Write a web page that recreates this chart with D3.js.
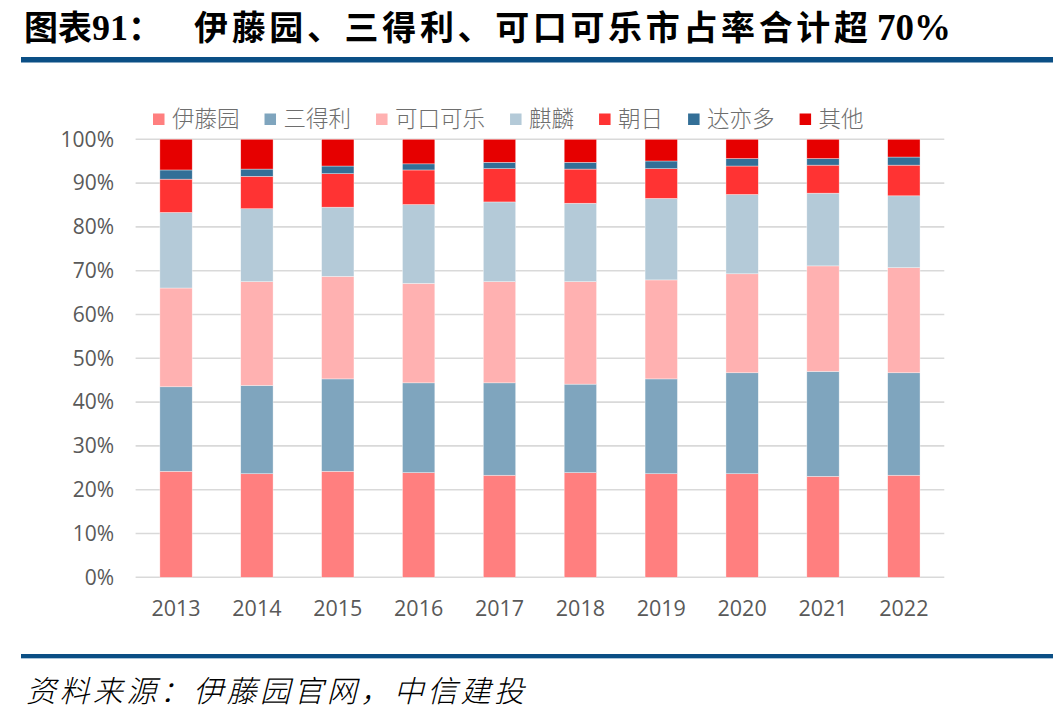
<!DOCTYPE html>
<html><head><meta charset="utf-8">
<script src="https://cdn.jsdelivr.net/npm/d3@7/dist/d3.min.js"></script>
<style>
html,body{margin:0;padding:0;background:#fff;}
svg{display:block;}
</style></head>
<body>
<svg id="chart" width="1053" height="723"></svg>
<script>
// ---- data ----
const years = ["2013","2014","2015","2016","2017","2018","2019","2020","2021","2022"];
const seriesNames = ["伊藤园","三得利","可口可乐","麒麟","朝日","达亦多","其他"];
const itoen   = [24.2, 23.65, 24.2, 23.9, 23.3, 23.9, 23.65, 23.65, 23.05, 23.3];
const suntory = [19.3, 20.15, 21.1, 20.5, 21.1, 20.2, 21.65, 23.05, 23.95, 23.4];
const coke    = [22.55, 23.7, 23.4, 22.7, 23.1, 23.4, 22.6, 22.6, 24.1, 24.0];
const kirin   = [17.25, 16.65, 15.8, 18.0, 18.2, 17.9, 18.6, 18.1, 16.6, 16.4];
const asahi   = [7.6, 7.4, 7.65, 7.9, 7.6, 7.8, 6.8, 6.5, 6.4, 7.0];
const dydo    = [2.1, 1.65, 1.75, 1.4, 1.45, 1.55, 1.75, 1.7, 1.5, 1.85];
const other   = [7.0, 6.8, 6.1, 5.6, 5.25, 5.25, 4.95, 4.4, 4.4, 4.05];
const yTicks  = [0,10,20,30,40,50,60,70,80,90,100];
const colors  = ["#FF7F7F","#7FA5BE","#FFB1B1","#B4CAD8","#FF3333","#336F97","#E60000"];
const titleBody = "伊藤园、三得利、可口可乐市占率合计超";
const titleTail = "70%";
const sourceText = "资料来源：伊藤园官网，中信建投";

const seriesValues = [itoen, suntory, coke, kirin, asahi, dydo, other];
const table = years.map((y, i) => {
  const row = {year: y};
  seriesNames.forEach((s, k) => row[s] = seriesValues[k][i]);
  return row;
});

const svg = d3.select("#chart");

// ---- title ----
const title = svg.append("text").attr("y", 40)
  .attr("font-family", "'Noto Sans CJK SC', sans-serif")
  .attr("font-weight", 700).attr("font-size", 34).attr("fill", "#000");
title.append("tspan").attr("x", 24).text("图表");
title.append("tspan").attr("font-family", "'Liberation Serif', serif").attr("font-size", 36).text("91");
title.append("tspan").text("：");
title.append("tspan").attr("x", 194).attr("textLength", 674).attr("lengthAdjust", "spacing").text(titleBody);
title.append("tspan").attr("x", 877).attr("font-family", "'Liberation Serif', serif").attr("font-size", 37).text(titleTail);

svg.append("rect").attr("x", 21).attr("y", 57).attr("width", 1032).attr("height", 5.5).attr("fill", "#0B4F85");

// ---- scales ----
const x = d3.scaleBand().domain(years).range([135.6, 944.3]).paddingInner(0.6).paddingOuter(0.3);
const y = d3.scaleLinear().domain([0, 100]).range([577.3, 139.3]);

// gridlines
svg.append("g").selectAll("line").data(yTicks).join("line")
  .attr("x1", 135.6).attr("x2", 944.3)
  .attr("y1", d => y(d)).attr("y2", d => y(d))
  .attr("stroke", "#D9D9D9").attr("stroke-width", 1.6);

// y axis labels via d3 axis
const yAxis = d3.axisLeft(y).tickValues(yTicks).tickFormat(d => d + "%").tickSize(0).tickPadding(0);
const yg = svg.append("g").attr("transform", "translate(114,0)").call(yAxis);
yg.select(".domain").remove();
yg.selectAll("text").attr("font-family", "'Open Sans', sans-serif").attr("font-size", 21).attr("fill", "#595959");

const xAxis = d3.axisBottom(x).tickSize(0).tickPadding(0);
const xg = svg.append("g").attr("transform", "translate(0,601)").call(xAxis);
xg.select(".domain").remove();
xg.selectAll("text").attr("font-family", "'Open Sans', sans-serif").attr("font-size", 21.5).attr("fill", "#595959");

// ---- stacked bars ----
const stack = d3.stack().keys(seriesNames);
const stacked = stack(table);
svg.append("g").selectAll("g").data(stacked).join("g")
  .attr("fill", (d, i) => colors[i])
  .selectAll("rect").data(d => d).join("rect")
  .attr("x", d => x(d.data.year))
  .attr("width", x.bandwidth())
  .attr("y", d => y(d[1]))
  .attr("height", d => y(d[0]) - y(d[1]))
  .attr("stroke", "#ffffff").attr("stroke-width", 0.6).attr("stroke-opacity", 0.6);

// ---- legend ----
const legend = svg.append("g");
let lx = 153;
seriesNames.forEach((name, i) => {
  legend.append("rect").attr("x", lx).attr("y", 113.5).attr("width", 11.5).attr("height", 11.5).attr("fill", colors[i]);
  const t = legend.append("text").attr("x", lx + 19).attr("y", 127)
    .attr("font-family", "'Noto Sans CJK SC', sans-serif").attr("font-weight", 300)
    .attr("font-size", 22.5).attr("fill", "#6E6E6E").text(name);
  lx = lx + 19 + t.node().getComputedTextLength() + 25;
});

// ---- footer ----
svg.append("rect").attr("x", 21).attr("y", 654).attr("width", 1032).attr("height", 4).attr("fill", "#0B4F85");
svg.append("rect").attr("x", 21).attr("y", 658).attr("width", 1032).attr("height", 1).attr("fill", "#A9C4DA");
svg.append("text").attr("x", 26).attr("y", 702)
  .attr("font-family", "'Noto Sans CJK SC', sans-serif").attr("font-weight", 300)
  .attr("font-style", "italic").attr("font-size", 30).attr("fill", "#000")
  .attr("textLength", 498).attr("lengthAdjust", "spacing")
  .text(sourceText);
</script>
</body></html>
